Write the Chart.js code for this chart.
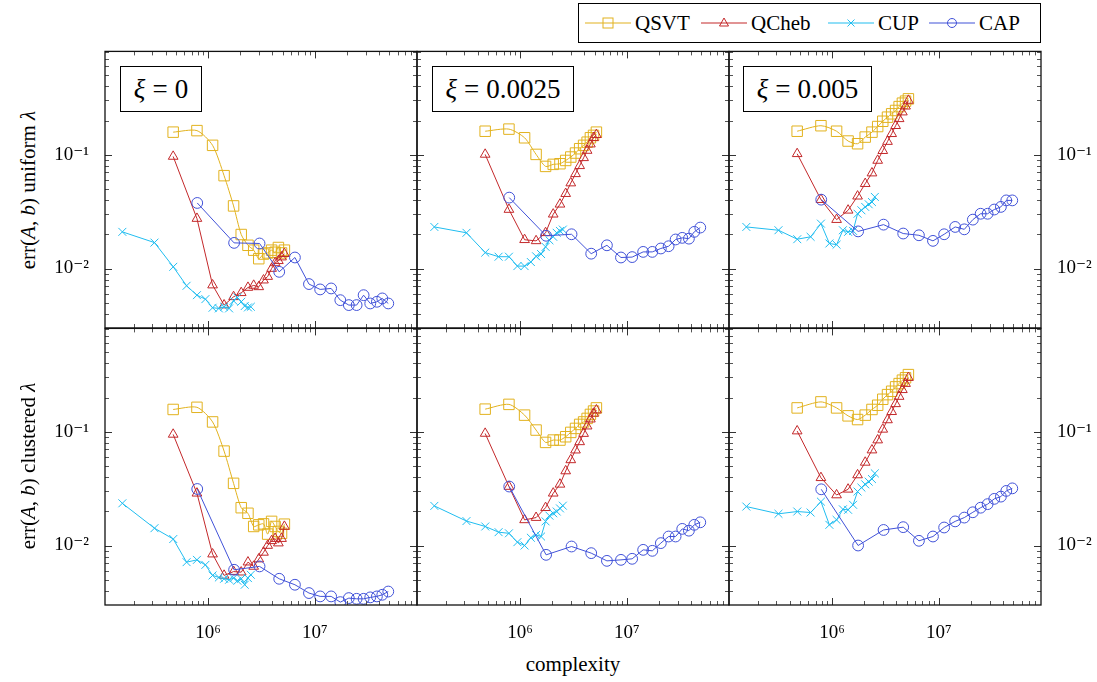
<!DOCTYPE html>
<html><head><meta charset="utf-8">
<script src="https://cdn.jsdelivr.net/npm/chart.js@4.4.1/dist/chart.umd.min.js"></script>
<style>
html,body{margin:0;padding:0;background:#fff;}
body{width:1097px;height:682px;position:relative;overflow:hidden;font-family:'Liberation Serif','DejaVu Serif',serif;color:#000;}
canvas{position:absolute;}
.xi{position:absolute;top:66px;height:46px;border:1px solid #000;background:#fff;display:flex;align-items:center;justify-content:center;font-size:27px;z-index:5;box-sizing:border-box;white-space:nowrap;font-family:'Liberation Serif',serif;}
.xi .eq{padding:0 7px;}
.ytitle{position:absolute;transform:translate(-50%,-50%) rotate(-90deg);white-space:nowrap;font-size:21px;z-index:5;font-family:'Liberation Serif',serif;}
#xtitle{position:absolute;left:573px;top:664px;transform:translate(-50%,-50%);font-size:21px;white-space:nowrap;font-family:'Liberation Serif',serif;}
#legend{position:absolute;left:578px;top:3px;width:463px;height:40px;border:1px solid #000;box-sizing:border-box;background:#fff;z-index:6;}
#legend .it{position:absolute;top:0;height:38px;display:flex;align-items:center;font-size:21px;white-space:nowrap;font-family:'Liberation Serif',serif;}
#legend svg{margin-right:4px;}
</style></head><body>
<div id="legend"></div>
<div class="ytitle" style="left:28px;top:190px">err(<i>A</i>, <i>b</i>) uniform <i>λ</i></div>
<div class="ytitle" style="left:28px;top:466px">err(<i>A</i>, <i>b</i>) clustered <i>λ</i></div>
<div id="xtitle">complexity</div>
<div class="xi" style="left:120px;width:82px;"><i>ξ</i><span class="eq">=</span>0</div>
<div class="xi" style="left:432px;width:142px;"><i>ξ</i><span class="eq">=</span>0.0025</div>
<div class="xi" style="left:743px;width:129px;"><i>ξ</i><span class="eq">=</span>0.005</div>
<script>
// ---------- data ----------
const SERIES = ['QSVT', 'QCheb', 'CUP', 'CAP'];
const XI_LABELS = ['0', '0.0025', '0.005'];

const xQSVT = [4.7e5, 7.85e5, 1.1e6, 1.41e6, 1.73e6, 2.04e6, 2.36e6, 2.67e6, 2.98e6, 3.3e6, 3.61e6, 3.93e6, 4.24e6, 4.55e6, 4.87e6, 5.18e6];
const xQCheb = [4.7e5, 7.85e5, 1.1e6, 1.41e6, 1.73e6, 2.04e6, 2.36e6, 2.67e6, 2.98e6, 3.3e6, 3.61e6, 3.93e6, 4.24e6, 4.55e6, 4.87e6, 5.18e6];
const xCUP = [1.57e5, 3.14e5, 4.71e5, 6.28e5, 7.85e5, 9.42e5, 1.1e6, 1.26e6, 1.41e6, 1.57e6, 1.73e6, 1.88e6, 2.04e6, 2.2e6, 2.36e6, 2.51e6];
const xCAP = [7.9e5, 1.75e6, 3.03e6, 4.63e6, 6.5e6, 8.8e6, 1.12e7, 1.42e7, 1.73e7, 2.08e7, 2.46e7, 2.86e7, 3.3e7, 3.81e7, 4.28e7, 4.87e7];

// uniform lambda (top row), xi = 0, 0.0025, 0.005
const qsvtU0 = [0.158, 0.163, 0.121, 0.0655, 0.0355, 0.0199, 0.016, 0.0145, 0.0122, 0.0134, 0.0137, 0.0145, 0.0139, 0.0153, 0.0137, 0.0145];
const qsvtU25 = [0.161, 0.168, 0.141, 0.1007, 0.079, 0.0823, 0.0834, 0.0891, 0.0955, 0.1035, 0.113, 0.121, 0.129, 0.141, 0.148, 0.158];
const qsvtU5 = [0.161, 0.180, 0.161, 0.132, 0.125, 0.143, 0.158, 0.177, 0.197, 0.214, 0.229, 0.245, 0.265, 0.284, 0.296, 0.310];
const qchebU0 = [0.0966, 0.0275, 0.00715, 0.00477, 0.00564, 0.00612, 0.00681, 0.0071, 0.0069, 0.0079, 0.0085, 0.0100, 0.0112, 0.0117, 0.0126, 0.0135];
const qchebU25 = [0.1007, 0.033, 0.0179, 0.0175, 0.0206, 0.030, 0.0367, 0.0455, 0.0564, 0.068, 0.080, 0.094, 0.109, 0.124, 0.141, 0.15];
const qchebU5 = [0.102, 0.0403, 0.0269, 0.0325, 0.0432, 0.0557, 0.069, 0.0891, 0.1086, 0.1306, 0.153, 0.180, 0.207, 0.237, 0.267, 0.300];
const cupU0 = [0.0210, 0.0169, 0.01035, 0.00705, 0.00583, 0.00538, 0.00452, 0.00446, 0.00461, 0.00446, 0.0052, 0.00557, 0.0051, 0.00468, 0.00455, 0.00461];
const cupU25 = [0.0232, 0.0206, 0.0138, 0.0127, 0.0127, 0.0105, 0.0105, 0.0114, 0.0128, 0.0134, 0.0155, 0.0177, 0.0190, 0.0206, 0.0214, 0.0220];
const cupU5 = [0.0232, 0.0217, 0.0181, 0.0190, 0.0248, 0.0166, 0.0162, 0.0217, 0.0210, 0.0214, 0.0303, 0.0325, 0.0348, 0.0367, 0.0384, 0.0426];
const capU0 = [0.0377, 0.0168, 0.0166, 0.00935, 0.0125, 0.0073, 0.00655, 0.00668, 0.00527, 0.00477, 0.00477, 0.00583, 0.00493, 0.0051, 0.00546, 0.00493];
const capU25 = [0.042, 0.0194, 0.0200, 0.0135, 0.016, 0.0125, 0.0126, 0.014, 0.014, 0.015, 0.0157, 0.018, 0.0186, 0.0183, 0.021, 0.0229];
const capU5 = [0.0403, 0.0212, 0.0243, 0.0203, 0.0196, 0.0175, 0.020, 0.0232, 0.0221, 0.0269, 0.0303, 0.0303, 0.033, 0.0348, 0.0397, 0.0397];

// clustered lambda (bottom row)
const qsvtC0 = [0.157, 0.164, 0.122, 0.0676, 0.0352, 0.0215, 0.0192, 0.0147, 0.0152, 0.0155, 0.0126, 0.0163, 0.0147, 0.0133, 0.0128, 0.0154];
const qsvtC25 = [0.158, 0.174, 0.140, 0.1035, 0.0806, 0.0845, 0.0845, 0.0904, 0.0987, 0.107, 0.116, 0.122, 0.131, 0.142, 0.152, 0.162];
const qsvtC5 = [0.162, 0.183, 0.162, 0.138, 0.128, 0.140, 0.157, 0.171, 0.193, 0.212, 0.227, 0.248, 0.265, 0.284, 0.298, 0.318];
const qchebC0 = [0.0948, 0.0288, 0.0084, 0.00546, 0.0059, 0.00583, 0.00714, 0.00655, 0.0076, 0.0087, 0.0100, 0.011, 0.0115, 0.0105, 0.0115, 0.0147];
const qchebC25 = [0.0966, 0.033, 0.0168, 0.0176, 0.0215, 0.0288, 0.0345, 0.0452, 0.0566, 0.0689, 0.0815, 0.0964, 0.112, 0.129, 0.145, 0.155];
const qchebC5 = [0.1014, 0.0394, 0.0278, 0.0312, 0.0417, 0.0538, 0.069, 0.0845, 0.105, 0.127, 0.150, 0.176, 0.204, 0.234, 0.265, 0.299];
const cupC0 = [0.0235, 0.0142, 0.0114, 0.00714, 0.00748, 0.00676, 0.00546, 0.00524, 0.0051, 0.0050, 0.00517, 0.0049, 0.0051, 0.00452, 0.00517, 0.00553];
const cupC25 = [0.0223, 0.0164, 0.0147, 0.0131, 0.0128, 0.0107, 0.0100, 0.0117, 0.0124, 0.0120, 0.0163, 0.0183, 0.0192, 0.0199, 0.0212, 0.0224];
const cupC5 = [0.0220, 0.0190, 0.0199, 0.0195, 0.0243, 0.0152, 0.0168, 0.0208, 0.0206, 0.0228, 0.0298, 0.0323, 0.0345, 0.0364, 0.0384, 0.0431];
const capC0 = [0.0314, 0.00612, 0.00655, 0.0051, 0.00452, 0.00382, 0.00357, 0.00357, 0.00318, 0.00345, 0.0034, 0.0034, 0.0035, 0.00357, 0.00369, 0.00394];
const capC25 = [0.033, 0.00828, 0.0098, 0.00857, 0.00733, 0.00748, 0.00764, 0.00916, 0.00898, 0.0105, 0.012, 0.012, 0.014, 0.0135, 0.0152, 0.016];
const capC5 = [0.0312, 0.0100, 0.0137, 0.0145, 0.011, 0.012, 0.0144, 0.0163, 0.0176, 0.0196, 0.0215, 0.0231, 0.0257, 0.0269, 0.0302, 0.0318];

// axes
const X_MIN = 1.08e5, X_MAX = 9.05e7;
const Y_MIN = 0.003, Y_MAX = 0.81;
const X_TICKS = [1e6, 1e7];
const X_TICK_LABELS = ['10⁶', '10⁷'];
const Y_TICKS = [0.01, 0.1];
const Y_TICK_LABELS = ['10⁻²', '10⁻¹'];
const X_MINOR = [2e5,3e5,4e5,5e5,6e5,7e5,8e5,9e5,2e6,3e6,4e6,5e6,6e6,7e6,8e6,9e6,2e7,3e7,4e7,5e7,6e7,7e7,8e7,9e7];
const Y_MINOR = [0.004,0.005,0.006,0.007,0.008,0.009,0.02,0.03,0.04,0.05,0.06,0.07,0.08,0.09,0.2,0.3,0.4,0.5,0.6,0.7,0.8];

// ---------- style ----------
const STYLE = {
  QSVT:  {color:'#E2B21E', pointStyle:'rect', radius:7.4},
  QCheb: {color:'#C3282A', pointStyle:'triangle', radius:5.6},
  CUP:   {color:'#20BDF0', pointStyle:'crossRot', radius:5.6},
  CAP:   {color:'#4152D8', pointStyle:'circle', radius:5.4}
};
const ORDER = {QSVT:4, QCheb:3, CUP:2, CAP:1};
const PLOT_LEFT = [105, 417, 729];
const PLOT_TOP = [51, 328];
const PW = 312, PH = 277;
const FONT = "'Liberation Serif', 'DejaVu Serif', serif";
Chart.defaults.font.family = FONT;
Chart.defaults.color = '#000';

const PANELS = [
  {row:0, col:0, xs:[xQSVT,xQCheb,xCUP,xCAP], ys:[qsvtU0, qchebU0, cupU0, capU0]},
  {row:0, col:1, xs:[xQSVT,xQCheb,xCUP,xCAP], ys:[qsvtU25, qchebU25, cupU25, capU25]},
  {row:0, col:2, xs:[xQSVT,xQCheb,xCUP,xCAP], ys:[qsvtU5, qchebU5, cupU5, capU5]},
  {row:1, col:0, xs:[xQSVT,xQCheb,xCUP,xCAP], ys:[qsvtC0, qchebC0, cupC0, capC0]},
  {row:1, col:1, xs:[xQSVT,xQCheb,xCUP,xCAP], ys:[qsvtC25, qchebC25, cupC25, capC25]},
  {row:1, col:2, xs:[xQSVT,xQCheb,xCUP,xCAP], ys:[qsvtC5, qchebC5, cupC5, capC5]}
];

const framePlugin = {
  id: 'frame',
  afterDraw(chart) {
    const ctx = chart.ctx, a = chart.chartArea;
    const xs = chart.scales.x, ys = chart.scales.y;
    ctx.save();
    ctx.strokeStyle = '#555';
    ctx.lineWidth = 1;
    const tick = (x1, y1, x2, y2) => { ctx.beginPath(); ctx.moveTo(x1, y1); ctx.lineTo(x2, y2); ctx.stroke(); };
    const drawX = (vals, len) => vals.forEach(v => {
      const px = Math.round(xs.getPixelForValue(v)) + 0.5;
      if (px <= a.left + 1 || px >= a.right - 1) return;
      tick(px, a.bottom, px, a.bottom - len);
      tick(px, a.top, px, a.top + len);
    });
    const drawY = (vals, len) => vals.forEach(v => {
      const py = Math.round(ys.getPixelForValue(v)) + 0.5;
      if (py <= a.top + 1 || py >= a.bottom - 1) return;
      tick(a.left, py, a.left + len, py);
      tick(a.right, py, a.right - len, py);
    });
    drawX(X_MINOR, 4); drawY(Y_MINOR, 4);
    ctx.strokeStyle = '#333';
    drawX(X_TICKS, 7); drawY(Y_TICKS, 7);
    ctx.strokeStyle = '#111';
    ctx.lineWidth = 1.3;
    ctx.strokeRect(a.left, a.top, a.right - a.left, a.bottom - a.top);
    ctx.restore();
  }
};

function noPad(s) { s.paddingTop = 0; s.paddingBottom = 0; s.paddingLeft = 0; s.paddingRight = 0; }

function makePanel(p) {
  const cv = document.createElement('canvas');
  const W = 60 + PW + 60, H = 8 + PH + 50;
  cv.width = W; cv.height = H;
  cv.style.width = W + 'px'; cv.style.height = H + 'px';
  cv.style.left = (PLOT_LEFT[p.col] - 60) + 'px';
  cv.style.top = (PLOT_TOP[p.row] - 8) + 'px';
  document.body.appendChild(cv);
  const datasets = SERIES.map((name, i) => {
    const st = STYLE[name];
    return {
      label: name,
      data: p.xs[i].map((x, j) => ({x: x, y: p.ys[i][j]})),
      borderColor: st.color,
      backgroundColor: 'rgba(0,0,0,0)',
      borderWidth: 1,
      pointStyle: st.pointStyle,
      pointRadius: st.radius,
      pointBorderWidth: 1,
      pointBorderColor: st.color,
      pointBackgroundColor: 'rgba(0,0,0,0)',
      tension: name === 'QSVT' ? 0.25 : 0,
      order: ORDER[name],
      fill: false
    };
  });
  const yScale = (pos, show) => ({
    type: 'logarithmic', position: pos, min: Y_MIN, max: Y_MAX,
    grid: {display: false}, border: {display: false},
    afterBuildTicks: s => { s.ticks = Y_TICKS.map(v => ({value: v})); },
    afterFit: s => { s.width = 60; noPad(s); },
    ticks: {display: show, padding: 8, font: {size: 19, family: FONT}, color: '#000',
            callback: (v, i) => Y_TICK_LABELS[Y_TICKS.indexOf(v)] ?? ''}
  });
  new Chart(cv, {
    type: 'line',
    data: {datasets},
    options: {
      responsive: false, animation: false, devicePixelRatio: 1,
      layout: {padding: {top: 8, left: 0, right: 0, bottom: 0}},
      plugins: {legend: {display: false}, tooltip: {enabled: false}},
      scales: {
        x: {
          type: 'logarithmic', position: 'bottom', min: X_MIN, max: X_MAX,
          grid: {display: false}, border: {display: false},
          afterBuildTicks: s => { s.ticks = X_TICKS.map(v => ({value: v})); },
          afterFit: s => { s.height = 50; noPad(s); },
          ticks: {display: p.row === 1, padding: 9, maxRotation: 0, autoSkip: false,
                  font: {size: 19, family: FONT}, color: '#000',
                  callback: (v, i) => X_TICK_LABELS[X_TICKS.indexOf(v)] ?? ''}
        },
        y: yScale('left', p.col === 0),
        y2: yScale('right', p.col === 2)
      }
    },
    plugins: [framePlugin]
  });
}
PANELS.forEach(makePanel);

// ---------- legend ----------
const LEGEND_POS = [6, 122, 249, 350];
function iconSVG(name) {
  const st = STYLE[name], c = st.color;
  let m = '';
  if (name === 'QSVT') m = `<rect x="18" y="14" width="10" height="10" fill="none" stroke="${c}"/>`;
  if (name === 'QCheb') m = `<polygon points="23,14 27.5,22 18.5,22" fill="none" stroke="${c}"/>`;
  if (name === 'CUP') m = `<path d="M19.5,15.5 L26.5,22.5 M26.5,15.5 L19.5,22.5" stroke="${c}"/>`;
  if (name === 'CAP') m = `<circle cx="23" cy="19" r="4.5" fill="none" stroke="${c}"/>`;
  return `<svg width="46" height="38" viewBox="0 0 46 38"><line x1="0" y1="19" x2="46" y2="19" stroke="${c}" stroke-width="1.2"/>${m}</svg>`;
}
const lg = document.getElementById('legend');
SERIES.forEach((name, i) => {
  const d = document.createElement('div');
  d.className = 'it';
  d.style.left = LEGEND_POS[i] + 'px';
  d.innerHTML = iconSVG(name) + '<span>' + name + '</span>';
  lg.appendChild(d);
});
</script>
</body></html>
